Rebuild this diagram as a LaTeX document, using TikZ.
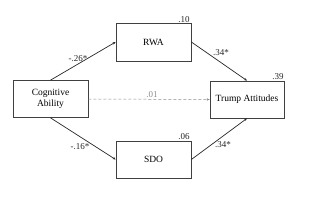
\documentclass[tikz,border=0pt]{standalone}
\usepackage{fontspec}
\setmainfont{Liberation Serif}
\usetikzlibrary{arrows.meta}
\begin{document}
\begin{tikzpicture}[x=1pt,y=-1pt,
  box/.style={draw=black!75,line width=0.7pt,minimum width=75pt,minimum height=37pt,inner sep=0pt,font=\fontsize{9.5}{11}\selectfont,align=center},
  path/.style={draw=black!85,line width=0.7pt,-{Stealth[length=3pt,width=2.5pt]}},
  lab/.style={font=\fontsize{9}{10}\selectfont,inner sep=0pt,text=black!85}]
\useasboundingbox (0,0) rectangle (320,209);
\node[box] (cog) at (50.5,99) {Cognitive\\Ability};
\node[box,minimum height=38pt] (rwa) at (153.5,42) {RWA};
\node[box] (sdo) at (153.5,159.5) {SDO};
\node[box,minimum width=74pt] (trump) at (247,99.5) {Trump Attitudes};
\draw[path] (cog.north) -- (rwa.west);
\draw[path] (cog.south) -- (sdo.west);
\draw[path] (rwa.east) -- (trump.north);
\draw[path] (sdo.east) -- (trump.south);
\draw[path,draw=black!45,densely dashed,line width=0.5pt] (cog.east) -- (trump.west);
\node[lab] (l1) at (78,59) {-.26*};
\node[lab] (l2) at (80,147) {-.16*};
\node[lab] (l3) at (221,53) {.34*};
\node[lab] (l4) at (223,145) {.34*};
\node[lab,text=black!45] (l5) at (152,94.5) {.01};
\node[lab] (r1) at (184,19.5) {.10};
\node[lab] (r2) at (184,137) {.06};
\node[lab] (r3) at (278,77) {.39};
\end{tikzpicture}
\end{document}
